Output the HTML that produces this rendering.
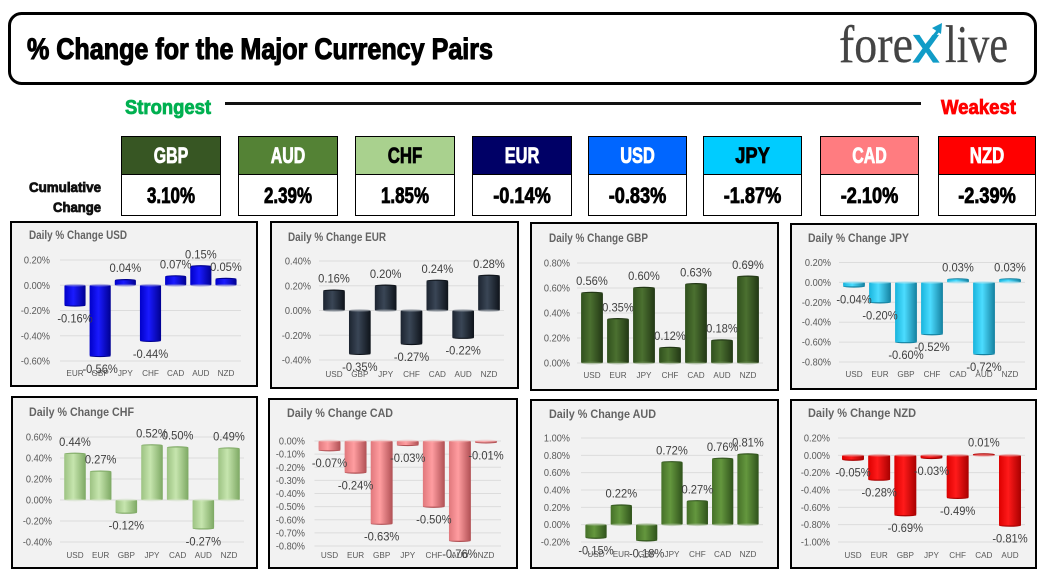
<!DOCTYPE html>
<html lang="en">
<head>
<meta charset="utf-8">
<title>% Change for the Major Currency Pairs</title>
<style>
html,body{margin:0;padding:0;background:#fff;width:1044px;height:578px;overflow:hidden}
svg{display:block}
text{font-family:"Liberation Sans",sans-serif}
.heavy{font-weight:700;stroke-width:.8px}
</style>
</head>
<body>
<svg id="board" xmlns="http://www.w3.org/2000/svg" width="1044" height="578" viewBox="0 0 1044 578">
  <rect x="0" y="0" width="1044" height="578" fill="#ffffff"/>
  <g>
    <rect x="9.5" y="13.5" width="1026" height="70" rx="12" fill="#fff" stroke="#000" stroke-width="3"/>
    <text x="27" y="59" class="heavy" font-size="30" fill="#000" stroke="#000" style="stroke-width:1.1px" textLength="466" lengthAdjust="spacingAndGlyphs">% Change for the Major Currency Pairs</text>
    <g>
      <text x="839" y="62" style="font-family:'Liberation Serif',serif" font-size="53" fill="#444" stroke="#444" stroke-width=".3" textLength="74" lengthAdjust="spacingAndGlyphs">fore</text>
      <text x="913" y="62" font-size="50" fill="#119cc7" stroke="#119cc7" stroke-width="1.2" textLength="26" lengthAdjust="spacingAndGlyphs">x</text>
      <line x1="925" y1="47" x2="938" y2="31" stroke="#119cc7" stroke-width="3"/>
      <polygon points="942,23 941,34 932,28" fill="#119cc7"/>
      <text x="945" y="62" style="font-family:'Liberation Serif',serif" font-size="53" fill="#444" stroke="#444" stroke-width=".3" textLength="63" lengthAdjust="spacingAndGlyphs">live</text>
    </g>
  </g>
  <g>
    <text x="125" y="114" class="heavy" font-size="20" fill="#00b050" stroke="#00b050" textLength="86" lengthAdjust="spacingAndGlyphs">Strongest</text>
    <rect x="225" y="102" width="696" height="3" fill="#111"/>
    <text x="941" y="114" class="heavy" font-size="20" fill="#ff0000" stroke="#ff0000" textLength="75" lengthAdjust="spacingAndGlyphs">Weakest</text>
  </g>
  <g>
    <text x="101" y="192" class="heavy" font-size="14" fill="#111" stroke="#111" text-anchor="end" textLength="72" lengthAdjust="spacingAndGlyphs">Cumulative</text>
    <text x="101" y="212" class="heavy" font-size="14" fill="#111" stroke="#111" text-anchor="end" textLength="48" lengthAdjust="spacingAndGlyphs">Change</text>
  </g>
  <g id="tiles"></g>
  <g id="panels"></g>
</svg>
<script>
// ---- summary tiles ----
var tileCurrencies = ['GBP', 'AUD', 'CHF', 'EUR', 'USD', 'JPY', 'CAD', 'NZD'];
var tileValues = ['3.10%', '2.39%', '1.85%', '-0.14%', '-0.83%', '-1.87%', '-2.10%', '-2.39%'];

// ---- chart data ----
var usdCategories = ['EUR', 'GBP', 'JPY', 'CHF', 'CAD', 'AUD', 'NZD'];
var usdValues = [-0.16, -0.56, 0.04, -0.44, 0.07, 0.15, 0.05];
var usdTicks = [0.2, 0, -0.2, -0.4, -0.6];

var eurCategories = ['USD', 'GBP', 'JPY', 'CHF', 'CAD', 'AUD', 'NZD'];
var eurValues = [0.16, -0.35, 0.20, -0.27, 0.24, -0.22, 0.28];
var eurTicks = [0.4, 0.2, 0, -0.2, -0.4];

var gbpCategories = ['USD', 'EUR', 'JPY', 'CHF', 'CAD', 'AUD', 'NZD'];
var gbpValues = [0.56, 0.35, 0.60, 0.12, 0.63, 0.18, 0.69];
var gbpTicks = [0.8, 0.6, 0.4, 0.2, 0];

var jpyCategories = ['USD', 'EUR', 'GBP', 'CHF', 'CAD', 'AUD', 'NZD'];
var jpyValues = [-0.04, -0.20, -0.60, -0.52, 0.03, -0.72, 0.03];
var jpyTicks = [0.2, 0, -0.2, -0.4, -0.6, -0.8];

var chfCategories = ['USD', 'EUR', 'GBP', 'JPY', 'CAD', 'AUD', 'NZD'];
var chfValues = [0.44, 0.27, -0.12, 0.52, 0.50, -0.27, 0.49];
var chfTicks = [0.6, 0.4, 0.2, 0, -0.2, -0.4];

var cadCategories = ['USD', 'EUR', 'GBP', 'JPY', 'CHF', 'AUD', 'NZD'];
var cadValues = [-0.07, -0.24, -0.63, -0.03, -0.50, -0.76, -0.01];
var cadTicks = [0, -0.1, -0.2, -0.3, -0.4, -0.5, -0.6, -0.7, -0.8];

var audCategories = ['USD', 'EUR', 'GBP', 'JPY', 'CHF', 'CAD', 'NZD'];
var audValues = [-0.15, 0.22, -0.18, 0.72, 0.27, 0.76, 0.81];
var audTicks = [1, 0.8, 0.6, 0.4, 0.2, 0, -0.2];

var nzdCategories = ['USD', 'EUR', 'GBP', 'JPY', 'CHF', 'CAD', 'AUD'];
var nzdValues = [-0.05, -0.28, -0.69, -0.03, -0.49, 0.01, -0.81];
var nzdTicks = [0.2, 0, -0.2, -0.4, -0.6, -0.8, -1];

// ---- layout (separate from data) ----
var NS = 'http://www.w3.org/2000/svg';
var tileBoxes = [
  {x:121,w:99,fill:'#375623',ink:'#fff'},{x:238,w:99,fill:'#548235',ink:'#fff'},
  {x:355,w:99,fill:'#a9d18e',ink:'#000'},{x:472,w:99,fill:'#000066',ink:'#fff'},
  {x:588,w:98,fill:'#0066ff',ink:'#fff'},{x:703,w:98,fill:'#00ccff',ink:'#000'},
  {x:820,w:98,fill:'#ff7c80',ink:'#fff'},{x:938,w:97,fill:'#ff0000',ink:'#fff'}
];
var panels = [
  {id:'usd',name:'USD',cats:usdCategories,vals:usdValues,ticks:usdTicks,fr:[11,222,246,164],tx:29,ty:239,tw:98,tr:50,top:260,bot:361,c0:75,c1:226,cy:376,left:'#0000c8',edge:'#000090',mid:'#1a1aff',cap:'#7a7ad8'},
  {id:'eur',name:'EUR',cats:eurCategories,vals:eurValues,ticks:eurTicks,fr:[271,222,247,166],tx:288,ty:241,tw:98,tr:311,top:261,bot:360,c0:334,c1:489,cy:377,left:'#1c2430',edge:'#0e131a',mid:'#3a4656',cap:'#7f8792'},
  {id:'gbp',name:'GBP',cats:gbpCategories,vals:gbpValues,ticks:gbpTicks,fr:[531,223,247,167],tx:549,ty:242,tw:99,tr:570,top:263,bot:363,c0:592,c1:748,cy:378,left:'#30501d',edge:'#223715',mid:'#4b7030',cap:'#7d9a68'},
  {id:'jpy',name:'JPY',cats:jpyCategories,vals:jpyValues,ticks:jpyTicks,fr:[791,224,245,165],tx:808,ty:242,tw:101,tr:831,top:262.5,bot:362,c0:854,c1:1010,cy:377,left:'#18b4dc',edge:'#14809f',mid:'#4cdcff',cap:'#a8e6f6'},
  {id:'chf',name:'CHF',cats:chfCategories,vals:chfValues,ticks:chfTicks,fr:[12,397,245,171],tx:29,ty:416,tw:105,tr:52,top:437,bot:542,c0:75,c1:229,cy:558,left:'#9cc282',edge:'#7da863',mid:'#c6e5ae',cap:'#d6e6c8'},
  {id:'cad',name:'CAD',cats:cadCategories,vals:cadValues,ticks:cadTicks,fr:[269,399,248,169],tx:287,ty:417,tw:106,tr:305,top:441,bot:546,c0:329.5,c1:486,cy:558,left:'#e0787c',edge:'#b05054',mid:'#ff9da0',cap:'#f4b9ba'},
  {id:'aud',name:'AUD',cats:audCategories,vals:audValues,ticks:audTicks,fr:[531,400,247,168],tx:549,ty:418,tw:107,tr:570,top:438,bot:542,c0:596,c1:748,cy:557,left:'#457028',edge:'#2f521b',mid:'#64973e',cap:'#8fae7a'},
  {id:'nzd',name:'NZD',cats:nzdCategories,vals:nzdValues,ticks:nzdTicks,fr:[791,400,245,168],tx:808,ty:417,tw:108,tr:830,top:438,bot:542,c0:853,c1:1010,cy:558,left:'#dc0000',edge:'#a80000',mid:'#ff1a1a',cap:'#e88080'}
];

function make(tag, attrs, parent, txt) {
  var el = document.createElementNS(NS, tag);
  for (var k in attrs) { el.setAttribute(k, attrs[k]); }
  if (txt !== undefined) { el.textContent = txt; }
  parent.appendChild(el);
  return el;
}
function pct(v) { return v.toFixed(2) + '%'; }
function squeeze(el, f) {
  el.setAttribute('textLength', (el.getComputedTextLength() * f).toFixed(2));
  el.setAttribute('lengthAdjust', 'spacingAndGlyphs');
}

// tiles
var tilesRoot = document.getElementById('tiles');
tileCurrencies.forEach(function (cur, i) {
  var b = tileBoxes[i];
  var key = cur.toLowerCase();
  var head = make('rect', {x:b.x + .5, y:136.5, width:b.w, height:38, fill:b.fill, stroke:'#000', 'stroke-width':1}, tilesRoot);
  
  
  var body = make('rect', {x:b.x + .5, y:174.5, width:b.w, height:41, fill:'#fff', stroke:'#000', 'stroke-width':1}, tilesRoot);
  
  
  var t1 = make('text', {x:b.x + b.w / 2 + .5, y:163, 'text-anchor':'middle', 'font-size':22, fill:b.ink, stroke:b.ink, class:'heavy', textLength:cur.length * 11.5, lengthAdjust:'spacingAndGlyphs'}, tilesRoot, cur);
  
  
  var val = tileValues[i];
  var t2 = make('text', {x:b.x + b.w / 2 + .5, y:203, 'text-anchor':'middle', 'font-size':22, fill:'#000', stroke:'#000', class:'heavy', textLength:val.length * 9.6, lengthAdjust:'spacingAndGlyphs'}, tilesRoot, val);
  
  
});

// charts
var svgRoot = document.getElementById('board');
var defs = make('defs', {}, svgRoot);
var panelsRoot = document.getElementById('panels');
panels.forEach(function (p) {
  var grad = make('linearGradient', {id:'grad-' + p.id, x1:0, y1:0, x2:1, y2:0}, defs);
  make('stop', {offset:'0', 'stop-color':p.left}, grad);
  make('stop', {offset:'0.42', 'stop-color':p.mid}, grad);
  make('stop', {offset:'1', 'stop-color':p.edge}, grad);

  var g = make('g', {}, panelsRoot);
  
  

  var frame = make('rect', {x:p.fr[0], y:p.fr[1], width:p.fr[2], height:p.fr[3], fill:'#f2f2f2', stroke:'#000', 'stroke-width':2}, g);
  
  

  var title = make('text', {x:p.tx, y:p.ty, 'font-size':11.5, 'font-weight':700, fill:'#636363', textLength:p.tw, lengthAdjust:'spacingAndGlyphs'}, g, 'Daily % Change ' + p.name);
  
  

  var maxTick = Math.max.apply(null, p.ticks);
  var minTick = Math.min.apply(null, p.ticks);
  var yScale = function (v) { return p.top + (maxTick - v) * (p.bot - p.top) / (maxTick - minTick); };
  var n = p.cats.length;
  var step = (p.c1 - p.c0) / (n - 1);
  var xScale = function (i) { return p.c0 + i * step; };
  var bw = step * 0.84;

  p.ticks.forEach(function (t) {
    var y = yScale(t);
    var line = make('line', {x1:p.c0 - 15, x2:p.c1 + 15, y1:y, y2:y, stroke:'#dcdcdc', 'stroke-width':1}, g);
    
    
    var lab = make('text', {x:p.tr, y:y + 3.5, 'text-anchor':'end', 'font-size':10, fill:'#595959'}, g, pct(t));
    
    
    squeeze(lab, 0.92);
  });

  p.vals.forEach(function (v, i) {
    var cx = xScale(i);
    var y0 = yScale(0);
    var yv = yScale(v);
    var end = make('ellipse', {cx:cx, cy:yv, rx:bw / 2, ry:1.2, fill:p.edge}, g);
    
    
    var bar = make('rect', {x:cx - bw / 2, y:Math.min(y0, yv), width:bw, height:Math.abs(yv - y0), rx:1, fill:'url(#grad-' + p.id + ')'}, g);
    
    
    var cap = make('ellipse', {cx:cx, cy:y0, rx:bw / 2, ry:1.4, fill:p.cap, opacity:0.5}, g);
    
    
  });

  p.cats.forEach(function (c, i) {
    var lab = make('text', {x:xScale(i), y:p.cy, 'text-anchor':'middle', 'font-size':8.6, fill:'#595959'}, g, c);
    
    
    squeeze(lab, 0.95);
  });

  p.vals.forEach(function (v, i) {
    var yv = yScale(v);
    var ly = v >= 0 ? yv - 8 : yv + 17;
    var lab = make('text', {x:xScale(i), y:ly, 'text-anchor':'middle', 'font-size':12, fill:'#404040'}, g, pct(v));
    
    
    squeeze(lab, 0.93);
  });
});
</script>
</body>
</html>
